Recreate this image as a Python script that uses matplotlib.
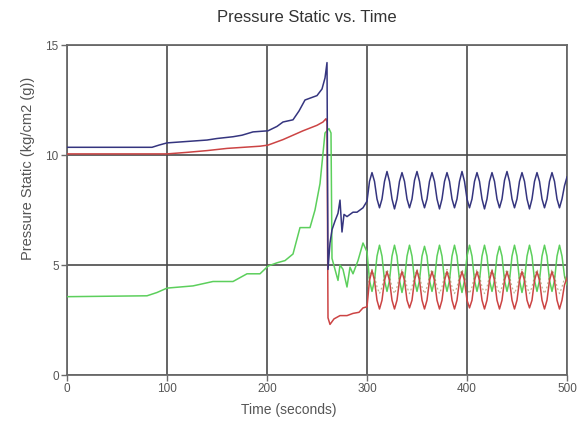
import numpy as np
import matplotlib
matplotlib.use("Agg")
import matplotlib.pyplot as plt

plt.rcParams.update({
    "font.family": ["Liberation Sans", "DejaVu Sans"],
    "axes.unicode_minus": False,
})

TITLE = "Pressure Static vs. Time"
X_LABEL = "Time (seconds)"
Y_LABEL = "Pressure Static (kg/cm2 (g))"
X_TICKS = [0, 100, 200, 300, 400, 500]
Y_TICKS = [0, 5, 10, 15]

# --- ramp / trip section (0 - 300 s) ---
blue_t = [0, 85, 92, 100, 140, 150, 166, 175, 186, 201, 210, 216, 226, 232, 238,
          250, 255, 258, 260, 261, 263, 265, 268, 271, 273, 275, 277, 280, 286,
          290, 296, 300]
blue_v = [10.35, 10.35, 10.45, 10.55, 10.68, 10.75, 10.83, 10.9, 11.05, 11.1, 11.3,
          11.5, 11.6, 12.0, 12.5, 12.7, 13.0, 13.5, 14.2, 4.8, 6.0, 6.6, 7.0, 7.35,
          7.95, 6.5, 7.3, 7.2, 7.4, 7.4, 7.6, 7.9]

red_t = [0, 100, 120, 140, 160, 193, 201, 216, 236, 250, 256, 259, 260, 261, 263,
         267, 273, 280, 286, 292, 296, 300]
red_v = [10.05, 10.05, 10.12, 10.2, 10.3, 10.4, 10.45, 10.7, 11.1, 11.35, 11.5,
         11.65, 11.5, 2.6, 2.3, 2.55, 2.7, 2.7, 2.8, 2.85, 3.05, 3.1]

green_t = [0, 80, 90, 100, 126, 146, 166, 180, 193, 201, 210, 218, 226, 233, 243,
           248, 253, 258, 262, 264, 265, 268, 271, 273, 276, 280, 283, 286, 291,
           296, 300]
green_v = [3.56, 3.6, 3.75, 3.95, 4.05, 4.25, 4.25, 4.6, 4.6, 4.95, 5.1, 5.2, 5.5,
           6.7, 6.7, 7.5, 8.7, 11.0, 11.2, 11.0, 5.3, 4.8, 4.3, 5.0, 4.8, 4.0, 4.9,
           4.6, 5.2, 6.0, 5.6]

# --- oscillating section (300 - 500 s), one reading every 2.5 s ---
osc_t = 300 + 2.5 * np.arange(81)

blue_osc = [
    7.9, 8.8, 9.2, 8.8, 8.0, 7.6,
    8.0, 8.8, 9.25, 8.8, 8.0, 7.55,
    8.0, 8.8, 9.2, 8.8, 8.0, 7.6,
    8.0, 8.85, 9.25, 8.8, 8.0, 7.6,
    8.0, 8.8, 9.2, 8.8, 8.0, 7.55,
    8.0, 8.8, 9.2, 8.8, 8.0, 7.6,
    8.0, 8.8, 9.25, 8.8, 8.0, 7.6,
    8.0, 8.8, 9.2, 8.8, 8.0, 7.55,
    8.0, 8.8, 9.2, 8.8, 8.0, 7.6,
    8.0, 8.85, 9.25, 8.8, 8.0, 7.6,
    8.0, 8.8, 9.2, 8.8, 8.0, 7.55,
    8.0, 8.8, 9.2, 8.8, 8.0, 7.6,
    8.0, 8.8, 9.2, 8.8, 8.0, 7.6,
    8.0, 8.6, 9.0,
]

red_osc = [
    3.1, 4.3, 4.75, 4.3, 3.4, 3.0,
    3.4, 4.3, 4.7, 4.3, 3.4, 3.0,
    3.4, 4.3, 4.7, 4.3, 3.4, 3.05,
    3.4, 4.3, 4.75, 4.3, 3.4, 3.0,
    3.4, 4.3, 4.7, 4.3, 3.4, 3.0,
    3.4, 4.3, 4.7, 4.3, 3.4, 3.0,
    3.4, 4.3, 4.7, 4.3, 3.4, 3.05,
    3.4, 4.3, 4.7, 4.3, 3.4, 3.0,
    3.4, 4.3, 4.75, 4.3, 3.4, 3.0,
    3.4, 4.3, 4.7, 4.3, 3.4, 3.0,
    3.4, 4.3, 4.7, 4.3, 3.4, 3.05,
    3.4, 4.3, 4.7, 4.3, 3.4, 3.0,
    3.4, 4.3, 4.7, 4.3, 3.4, 3.0,
    3.4, 4.1, 4.4,
]

green_osc = [
    5.6, 4.3, 3.8, 4.3, 5.4, 5.9,
    5.4, 4.3, 3.8, 4.3, 5.4, 5.9,
    5.4, 4.3, 3.75, 4.3, 5.4, 5.9,
    5.4, 4.3, 3.8, 4.3, 5.4, 5.85,
    5.4, 4.3, 3.8, 4.3, 5.4, 5.9,
    5.4, 4.3, 3.8, 4.3, 5.4, 5.9,
    5.4, 4.3, 3.75, 4.3, 5.4, 5.9,
    5.4, 4.3, 3.8, 4.3, 5.4, 5.9,
    5.4, 4.3, 3.8, 4.3, 5.4, 5.85,
    5.4, 4.3, 3.8, 4.3, 5.4, 5.9,
    5.4, 4.3, 3.75, 4.3, 5.4, 5.9,
    5.4, 4.3, 3.8, 4.3, 5.4, 5.9,
    5.4, 4.3, 3.8, 4.3, 5.4, 5.9,
    5.4, 4.5, 4.1,
]

olive_osc = [
    4.0, 4.5, 4.8, 4.5, 4.0, 3.7,
    4.0, 4.5, 4.8, 4.5, 4.0, 3.7,
    4.0, 4.5, 4.8, 4.5, 4.0, 3.7,
    4.0, 4.5, 4.8, 4.5, 4.0, 3.7,
    4.0, 4.5, 4.8, 4.5, 4.0, 3.7,
    4.0, 4.5, 4.8, 4.5, 4.0, 3.7,
    4.0, 4.5, 4.8, 4.5, 4.0, 3.7,
    4.0, 4.5, 4.8, 4.5, 4.0, 3.7,
    4.0, 4.5, 4.8, 4.5, 4.0, 3.7,
    4.0, 4.5, 4.8, 4.5, 4.0, 3.7,
    4.0, 4.5, 4.8, 4.5, 4.0, 3.7,
    4.0, 4.5, 4.8, 4.5, 4.0, 3.7,
    4.0, 4.5, 4.8, 4.5, 4.0, 3.7,
    4.0, 4.4, 4.6,
]

BLUE = "#35357f"
RED = "#cc4444"
GREEN = "#5ccf5c"
OLIVE = "#8a7a3a"
GRID = "#4a4a4a"
TEXT = "#555555"

fig = plt.figure(figsize=(5.82, 4.25), dpi=100)
ax = fig.add_axes([67 / 582, 1 - 375 / 425, 500 / 582, 330 / 425])

ax.plot(np.r_[green_t, osc_t[1:]], np.r_[green_v, green_osc[1:]], color=GREEN, lw=1.1, zorder=3)
ax.plot(np.r_[red_t, osc_t[1:]], np.r_[red_v, red_osc[1:]], color=RED, lw=1.1, zorder=4)
ax.plot(osc_t, olive_osc, color=OLIVE, lw=0.9, ls=(0, (1.5, 2)), alpha=0.55, zorder=5)
ax.plot(np.r_[blue_t, osc_t[1:]], np.r_[blue_v, blue_osc[1:]], color=BLUE, lw=1.1, zorder=6)

ax.set_xlim(0, 500)
ax.set_ylim(0, 15)
ax.set_xticks(X_TICKS)
ax.set_yticks(Y_TICKS)
ax.grid(True, color=GRID, lw=1.2, zorder=1)
ax.set_axisbelow(True)
for s in ax.spines.values():
    s.set_color("#6a6a6a")
    s.set_linewidth(1.3)
ax.tick_params(direction="out", length=4, width=1, color="#6a6a6a",
               labelsize=8.5, labelcolor=TEXT, pad=2)

fig.text(0.528, 1 - 18 / 425, TITLE, ha="center", va="center", fontsize=12, color="#333333")
fig.text(289 / 582, 1 - 410 / 425, X_LABEL, ha="center", va="center", fontsize=10, color=TEXT)
fig.text(28 / 582, 1 - 168 / 425, Y_LABEL, ha="center", va="center", rotation=90,
         fontsize=10.5, color=TEXT)

fig.savefig("out.png", dpi=100)
